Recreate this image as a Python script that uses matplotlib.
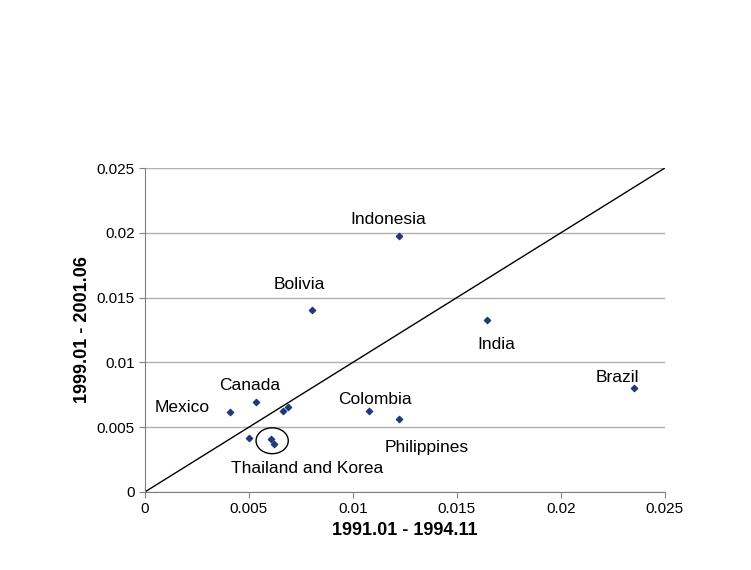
import matplotlib.pyplot as plt
from matplotlib.patches import Ellipse

# data
x_vals = [0.01221, 0.00803, 0.01644, 0.02351, 0.00409, 0.00534, 0.00663, 0.00688,
          0.01077, 0.01221, 0.00500, 0.00606, 0.00620]
y_vals = [0.01975, 0.01404, 0.01327, 0.00802, 0.00617, 0.00694, 0.00625, 0.00656,
          0.00625, 0.00563, 0.00417, 0.00409, 0.00370]
labels = ['Indonesia', 'Bolivia', 'India', 'Brazil', 'Mexico', 'Canada', 'Colombia',
          'Philippines', 'Thailand and Korea']
label_xy = [(0.00986, 0.0207), (0.0062, 0.0157), (0.0160, 0.0110), (0.0217, 0.0085),
            (0.00048, 0.0062), (0.00356, 0.0079), (0.00928, 0.0068), (0.01154, 0.0031),
            (0.00413, 0.00147)]

fig = plt.figure(figsize=(7.51, 5.70), dpi=100)
ax = fig.add_axes([0.193, 0.137, 0.692, 0.568])
ax.plot([0, 0.025], [0, 0.025], color='black', lw=1)
ax.scatter(x_vals, y_vals, marker='D', s=10, color='#1f3a7a', zorder=3)
for t, (lx, ly) in zip(labels, label_xy):
    ax.text(lx, ly, t, fontsize=12.5, family='Liberation Sans', va='baseline')
ax.add_patch(Ellipse((0.00612, 0.00395), 0.00155, 0.002, fill=False, color='black', lw=1))

ax.set_xlim(0, 0.025)
ax.set_ylim(0, 0.025)
ticks = [0, 0.005, 0.01, 0.015, 0.02, 0.025]
tick_text = ['0', '0.005', '0.01', '0.015', '0.02', '0.025']
ax.set_xticks(ticks)
ax.set_xticklabels(tick_text, family='Liberation Sans', fontsize=11)
ax.set_yticks(ticks)
ax.set_yticklabels(tick_text, family='Liberation Sans', fontsize=11)
ax.yaxis.grid(True, color='#b0b0b0', lw=1)
ax.set_axisbelow(True)
for s in ['top', 'right']:
    ax.spines[s].set_visible(False)
ax.spines['left'].set_color('#808080')
ax.spines['bottom'].set_color('#808080')
ax.tick_params(direction='out', length=4, color='#808080')
ax.set_xlabel('1991.01 - 1994.11', fontsize=13, fontweight='bold', family='Liberation Sans')
ax.set_ylabel('1999.01 - 2001.06', fontsize=13, fontweight='bold', family='Liberation Sans')
fig.savefig('out.png')
